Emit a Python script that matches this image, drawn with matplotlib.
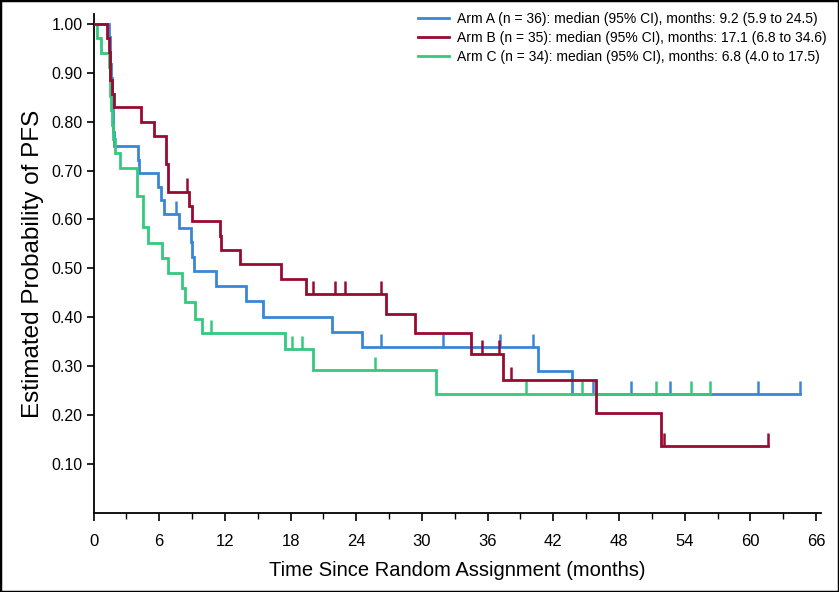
import matplotlib
matplotlib.use("Agg")
import matplotlib.pyplot as plt
from matplotlib.patches import Rectangle
from matplotlib.ticker import MultipleLocator, FormatStrFormatter

# ---- data ----
arm_labels = [
    "Arm A (n = 36): median (95% CI), months: 9.2 (5.9 to 24.5)",
    "Arm B (n = 35): median (95% CI), months: 17.1 (6.8 to 34.6)",
    "Arm C (n = 34): median (95% CI), months: 6.8 (4.0 to 17.5)",
]

A_t = [0, 1.4, 1.5, 1.55, 1.6, 1.65, 1.7, 1.75, 1.8, 1.9, 4.1, 4.18, 5.86, 6.16, 6.47,
       7.84, 8.9, 9.03, 9.2, 11.2, 13.9, 15.5, 21.8, 24.5, 40.6, 43.7]
A_s = [1.0, 0.972, 0.944, 0.917, 0.889, 0.861, 0.833, 0.806, 0.778, 0.750, 0.722, 0.694,
       0.667, 0.639, 0.611, 0.582, 0.553, 0.524, 0.494, 0.464, 0.433, 0.401, 0.371, 0.339,
       0.290, 0.243]
A_end = 64.5
A_cens = [7.5, 26.3, 31.9, 37.1, 40.1, 45.6, 49.1, 52.7, 60.7, 64.5]

B_t = [0, 1.2, 1.44, 1.5, 1.55, 1.66, 1.84, 4.34, 5.55, 6.62, 6.77, 8.75, 8.97, 11.52,
       11.64, 13.4, 17.1, 19.4, 26.7, 29.36, 34.5, 37.4, 45.9, 51.8]
B_s = [1.0, 0.971, 0.943, 0.914, 0.886, 0.857, 0.829, 0.800, 0.771, 0.714, 0.657, 0.627,
       0.597, 0.567, 0.537, 0.508, 0.478, 0.448, 0.407, 0.367, 0.326, 0.272, 0.204, 0.136]
B_end = 61.6
B_cens = [8.5, 20.07, 22.05, 22.97, 26.23, 35.5, 37.0, 38.1, 52.1, 61.6]

C_t = [0, 0.3, 0.65, 1.42, 1.5, 1.55, 1.6, 1.7, 1.8, 1.96, 2.42, 3.95, 4.0, 4.5, 4.95,
       6.23, 6.83, 8.05, 8.36, 9.27, 9.88, 17.5, 20.07, 31.3]
C_s = [1.0, 0.971, 0.941, 0.912, 0.882, 0.853, 0.824, 0.794, 0.765, 0.735, 0.706, 0.676,
       0.647, 0.585, 0.552, 0.521, 0.490, 0.460, 0.431, 0.397, 0.367, 0.335, 0.292, 0.243]
C_end = 56.3
C_cens = [10.7, 18.15, 19.0, 25.7, 39.5, 44.6, 51.4, 54.6, 56.3]

x_ticks = [0, 6, 12, 18, 24, 30, 36, 42, 48, 54, 60, 66]
y_ticks = [0.10, 0.20, 0.30, 0.40, 0.50, 0.60, 0.70, 0.80, 0.90, 1.00]

colors = ["#3A86D6", "#990A30", "#34C97D"]

plt.rcParams["font.family"] = ["Liberation Sans", "DejaVu Sans"]

fig = plt.figure(figsize=(8.39, 5.92), dpi=100)
ax = fig.add_axes([93.5 / 839, 79 / 592, (821 - 93.5) / 839, (513 - 14) / 592])

def level_at(ts, ss, x):
    v = ss[0]
    for t, s in zip(ts, ss):
        if t <= x:
            v = s
    return v

arms = [(A_t, A_s, A_end, A_cens), (B_t, B_s, B_end, B_cens), (C_t, C_s, C_end, C_cens)]
zorders = [2, 4, 3]
for i, (ts, ss, end, cens) in enumerate(arms):
    ax.step(ts + [end], ss + [ss[-1]], where="post", color=colors[i], lw=2.0,
            label=arm_labels[i], zorder=zorders[i], solid_joinstyle="miter")
    for c in cens:
        y = level_at(ts, ss, c)
        ax.plot([c, c], [y, y + 0.027], color=colors[i], lw=1.8, zorder=zorders[i],
                solid_capstyle="butt")

ax.set_xlim(0, 66.45)
ax.set_ylim(0, 1.02)
ax.set_xticks(x_ticks)
ax.xaxis.set_minor_locator(MultipleLocator(3))
ax.set_yticks(y_ticks)
ax.yaxis.set_major_formatter(FormatStrFormatter("%.2f"))

for side in ["top", "right"]:
    ax.spines[side].set_visible(False)
for side in ["left", "bottom"]:
    ax.spines[side].set_linewidth(1.3)

ax.tick_params(axis="x", which="major", length=6, width=1.2, pad=9, labelsize=12)
ax.tick_params(axis="x", which="minor", length=4, width=1.0)
ax.tick_params(axis="y", which="major", length=5, width=1.2, pad=3, labelsize=11.5)

ax.set_xlabel("Time Since Random Assignment (months)", fontsize=14.5, labelpad=9)
ax.set_ylabel("Estimated Probability of PFS", fontsize=17.5, labelpad=5)

leg = ax.legend(loc="upper right", bbox_to_anchor=(1.025, 1.029), frameon=False,
                fontsize=10, handlelength=2.2, handletextpad=0.6, labelspacing=0.35)
for line in leg.get_lines():
    line.set_linewidth(2.0)

fig.patches.append(Rectangle((0, 0), 1, 1, transform=fig.transFigure, fill=False,
                             edgecolor="black", linewidth=2.5))

fig.savefig("out.png", dpi=100)
